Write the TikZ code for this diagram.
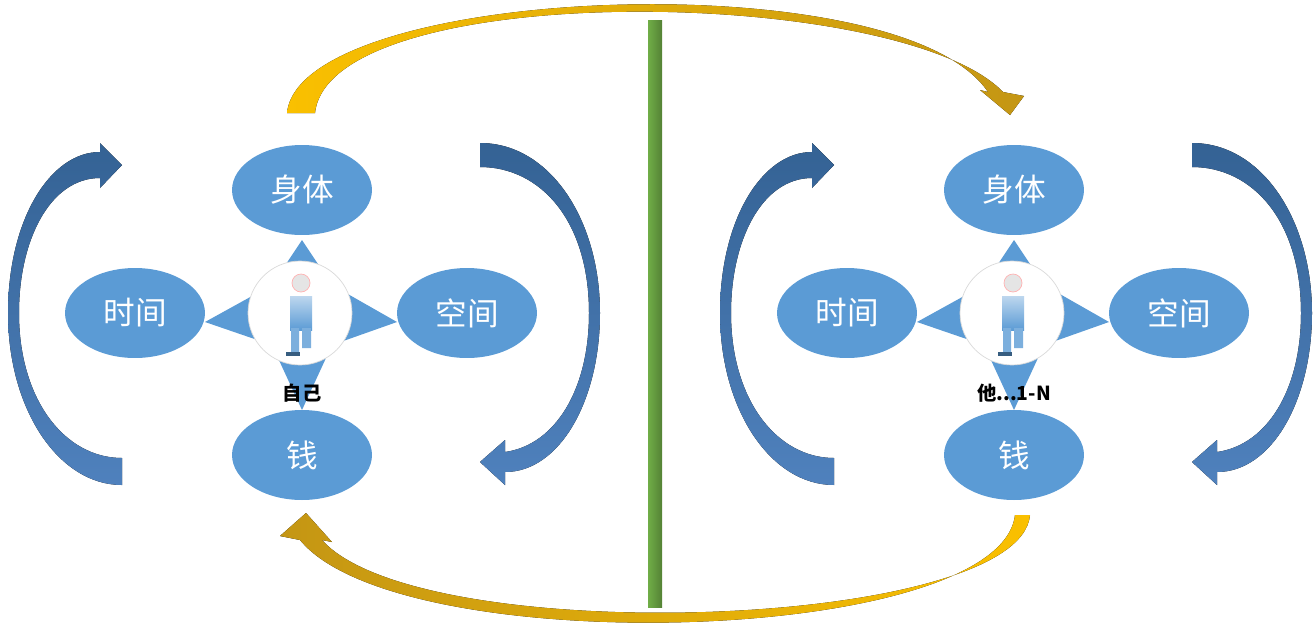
\documentclass[tikz,border=0pt]{standalone}
\usepackage{fontspec}
\newfontfamily\cjk{Noto Sans CJK SC}
\usetikzlibrary{shapes.geometric,positioning}
\definecolor{ellblue}{RGB}{91,155,213}
\definecolor{darkblue}{RGB}{52,98,148}
\definecolor{midblue}{RGB}{79,129,189}
\definecolor{gold}{RGB}{196,150,20}
\definecolor{brightgold}{RGB}{250,192,0}
\definecolor{barlight}{RGB}{112,173,71}
\definecolor{bardark}{RGB}{84,130,53}
\tikzset{topic/.style={draw=none, fill=ellblue, ellipse, minimum width=2.8cm, minimum height=1.8cm,
		text=white, font=\cjk\fontsize{18}{20}\selectfont},
	hub/.style={draw=black!15, fill=white, circle, minimum size=2.08cm},
	who/.style={font=\cjk\bfseries\fontsize{11}{13}\selectfont},
	star/.style={fill=ellblue},
	blueturn/.style={top color=darkblue, bottom color=midblue}}
\newcommand{\cluster}[3]{% x offset, name prefix, label
	\begin{scope}[xshift=#1*0.02cm]
		\fill[star] (302,240)--(332,285)--(397,322)--(332,345)--(302,410)--(272,345)--(205,322)--(272,285)--cycle;
		\node[topic] (#2body) at (302,190) {身体};
		\node[topic] (#2time) at (135,313) {时间};
		\node[topic] (#2space) at (467,313) {空间};
		\node[topic] (#2money) at (302,455) {钱};
		\node[hub] (#2hub) at (300,313) {};
		% person
		\fill[top color=ellblue!40, bottom color=ellblue] (290,296) rectangle (312,330);
		\fill[ellblue!80] (291,328) rectangle (299,352) (302,328) rectangle (311,348);
		\fill[ellblue!60!black] (286,352) rectangle (300,356);
		\fill[black!10, draw=red!30] (301,283) circle (9);
		\node[who] (#2who) at (302,393) {#3};
		% side arrows
		\fill[blueturn] (122,485) .. controls (59,485) and (8,410) .. (8,313)
			.. controls (8,220) and (50,152) .. (100,152) -- (100,143) -- (122,165) -- (100,188) -- (100,178)
			.. controls (50,178) and (19,240) .. (19,313) .. controls (19,400) and (65,458) .. (122,458) -- cycle;
		\fill[blueturn] (480,143) .. controls (550,143) and (600,220) .. (600,313)
			.. controls (600,400) and (560,472) .. (505,472) -- (505,485) -- (480,462) -- (505,440) -- (505,452)
			.. controls (555,445) and (589,390) .. (589,313) .. controls (589,220) and (540,167) .. (480,167) -- cycle;
	\end{scope}}

\begin{document}
\begin{tikzpicture}[x=0.02cm,y=-0.02cm]
	\useasboundingbox (0,0) rectangle (1316,633);
	\cluster{0}{l}{自己}
	\cluster{712}{r}{他...1-N}
	% divider
	\fill[left color=barlight, right color=bardark] (648,20) rectangle (662,607);
	% top and bottom swaps
	\fill[left color=brightgold, right color=gold] (287,113) .. controls (300,-15) and (900,-40) .. (988,92)
		-- (980,90) -- (1010,115) -- (1024,96) -- (1003,92)
		.. controls (900,-15) and (330,-22) .. (315,113) -- cycle;
	\fill[left color=gold, right color=brightgold] (1030,515) .. controls (1020,630) and (420,650) .. (322,540)
		-- (332,542) -- (306,513) -- (280,536) -- (300,540)
		.. controls (400,662) and (1000,645) .. (1015,515) -- cycle;
\end{tikzpicture}
\end{document}
